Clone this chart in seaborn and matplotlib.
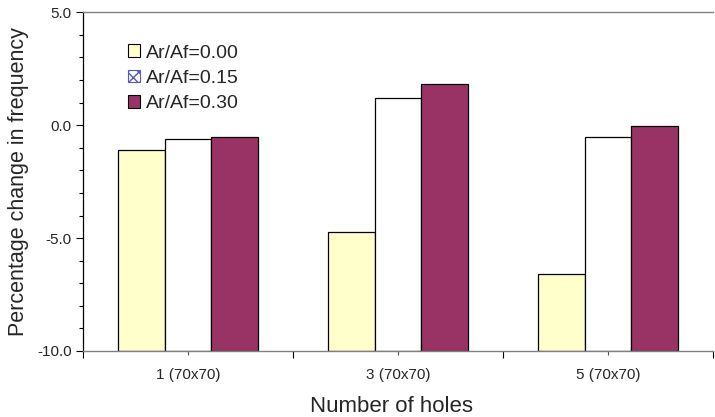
import matplotlib
matplotlib.use("Agg")
import matplotlib.pyplot as plt
from matplotlib.patches import Patch
from matplotlib.ticker import MultipleLocator, FixedLocator
import seaborn as sns
import pandas as pd

categories = ["1 (70x70)", "3 (70x70)", "5 (70x70)"]
series_names = ["Ar/Af=0.00", "Ar/Af=0.15", "Ar/Af=0.30"]
vals_000 = [-1.08, -4.74, -6.58]
vals_015 = [-0.60, 1.22, -0.53]
vals_030 = [-0.51, 1.82, -0.04]
colors = ["#FFFFCC", "#FFFFFF", "#993366"]
y_min, y_max = -10.0, 5.0

rows = []
for name, vals in zip(series_names, [vals_000, vals_015, vals_030]):
    for c, v in zip(categories, vals):
        # bars rise from the axis floor (-10), as in the original Excel chart
        rows.append({"cat": c, "series": name, "height": v - y_min})
df = pd.DataFrame(rows)

sns.set_theme(style="white")
plt.rcParams["font.family"] = ["Liberation Sans", "DejaVu Sans"]

fig = plt.figure(figsize=(7.15, 4.17), dpi=100)
ax = fig.add_axes([83 / 715, (417 - 351) / 417, 630 / 715, (351 - 12.3) / 417])

sns.barplot(data=df, x="cat", y="height", hue="series", order=categories,
            hue_order=series_names, palette=colors, width=0.667, gap=0,
            edgecolor="black", linewidth=0.9, saturation=1, ax=ax, legend=False,
            errorbar=None, bottom=y_min)

ax.set_xlim(-0.5, 2.5)
ax.set_ylim(y_min, y_max)
ax.yaxis.set_minor_locator(MultipleLocator(1))
ax.set_yticks([5, 0, -5, -10])
ax.set_yticklabels(["5.0", "0.0", "-5.0", "-10.0"])
ax.tick_params(axis="y", which="major", direction="out", length=5, width=0.8,
               labelsize=11, left=True, color="black", pad=3)
ax.tick_params(axis="y", which="minor", direction="out", length=3, width=0.8,
               left=True, color="black")

ax.set_xticks([0, 1, 2])
ax.set_xticklabels(categories)
ax.xaxis.set_minor_locator(FixedLocator([-0.5, 0.5, 1.5, 2.5]))
ax.tick_params(axis="x", which="major", direction="out", length=3, width=0.8,
               labelsize=11, bottom=True, color="#555555", pad=9)
ax.tick_params(axis="x", which="minor", direction="out", length=5, width=0.8,
               bottom=True, color="black")

ax.spines["left"].set_color("black")
ax.spines["left"].set_linewidth(0.9)
for s in ["bottom", "top"]:
    ax.spines[s].set_color("#808080")
    ax.spines[s].set_linewidth(1.0)
ax.spines["right"].set_visible(False)

ax.set_xlabel("Number of holes", fontsize=16, labelpad=10, x=0.489)
ax.set_ylabel("Percentage change in frequency", fontsize=15.5, labelpad=6)

handles = [
    Patch(facecolor=colors[0], edgecolor="black", linewidth=0.8),
    Patch(facecolor="white", edgecolor="#5555cc", linewidth=0.8, hatch="xxx"),
    Patch(facecolor=colors[2], edgecolor="black", linewidth=0.8),
]
ax.legend(handles, series_names, loc="upper left", bbox_to_anchor=(0.071, 0.905),
          frameon=False, fontsize=14, handlelength=0.62, handleheight=0.62,
          handletextpad=0.3, labelspacing=0.42, borderaxespad=0, borderpad=0)

fig.savefig("out.png", dpi=100)
